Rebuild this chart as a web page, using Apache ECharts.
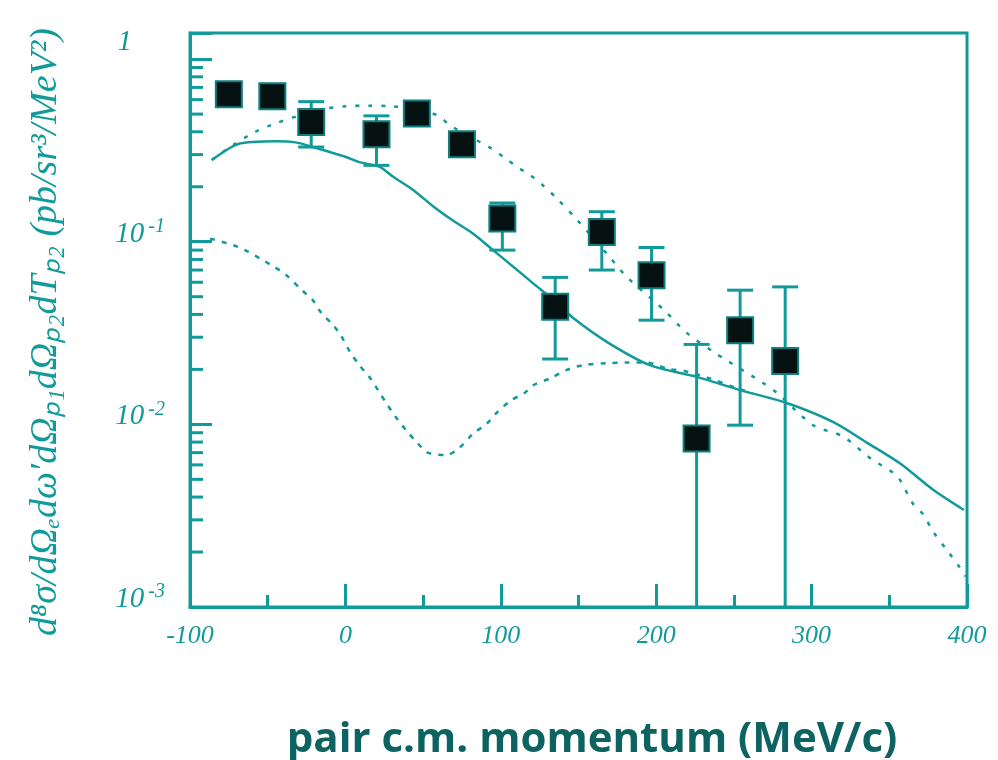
<!DOCTYPE html>
<html><head><meta charset="utf-8">
<script src="https://cdn.jsdelivr.net/npm/echarts@6/dist/echarts.min.js"></script>
<style>html,body{margin:0;padding:0;background:#fff}#c{width:998px;height:760px}</style>
</head><body><div id="c"></div>
<script>
// ---- data ----
const ptX = [-75, -47, -22, 20, 46, 75, 101, 135, 165, 197, 226, 254, 283];
const ptY = [0.643, 0.627, 0.453, 0.388, 0.503, 0.342, 0.134, 0.0441, 0.113, 0.0656, 0.00837, 0.0328, 0.0222];
const errHi = [null, null, 0.585, 0.489, null, null, 0.163, 0.0638, 0.146, 0.093, 0.0274, 0.0543, 0.0566];
const errLo = [null, null, 0.330, 0.262, null, null, 0.090, 0.0228, 0.070, 0.0372, 0.0008, 0.0099, 0.0008];

const solidX = [-86, -75, -68, -60, -45, -32, -21, -10, 0, 9, 22, 31, 44, 57, 69, 82, 95, 108, 121, 134, 147, 170, 196, 226, 254, 284, 314, 336, 357, 378, 398];
const solidY = [0.28, 0.324, 0.345, 0.352, 0.355, 0.35, 0.33, 0.31, 0.292, 0.273, 0.257, 0.226, 0.191, 0.155, 0.131, 0.111, 0.090, 0.073, 0.059, 0.048, 0.038, 0.0277, 0.0211, 0.0182, 0.0154, 0.0131, 0.0103, 0.0079, 0.0061, 0.0044, 0.0034];

const upX = [-86, -72, -58, -48, -30, -12, 0, 15, 30, 45, 59, 68, 94, 103, 112, 119, 127, 136, 149, 170, 181, 205, 220, 237, 245, 269, 278, 301, 320, 338, 355, 365, 372, 378, 388, 395, 399];
const upY = [0.28, 0.34, 0.40, 0.435, 0.49, 0.537, 0.552, 0.556, 0.552, 0.53, 0.493, 0.43, 0.324, 0.286, 0.252, 0.232, 0.204, 0.173, 0.132, 0.0826, 0.0643, 0.0423, 0.0315, 0.0249, 0.0225, 0.0168, 0.0148, 0.0099, 0.0086, 0.0065, 0.0052, 0.0037, 0.0032, 0.0026, 0.0020, 0.00166, 0.00147];

const lowX = [-87, -72, -63, -55, -46, -38, -28, -21, -16, -8, -3, 3, 9, 16, 21, 27, 33, 39, 47, 53, 65, 73, 82, 91, 97, 107, 115, 121, 132, 142, 153, 168, 181, 194, 207, 220, 235, 250, 262];
const lowY = [0.104, 0.0957, 0.0886, 0.081, 0.073, 0.0656, 0.0543, 0.0479, 0.0413, 0.035, 0.0308, 0.0249, 0.0211, 0.0179, 0.0154, 0.0128, 0.0108, 0.0093, 0.0078, 0.0070, 0.0068, 0.0074, 0.00885, 0.0101, 0.0115, 0.0136, 0.0148, 0.0164, 0.0179, 0.0198, 0.0211, 0.0216, 0.0218, 0.0218, 0.0202, 0.0194, 0.0178, 0.0160, 0.0148];

const yMinor = [0.002, 0.003, 0.004, 0.005, 0.006, 0.007, 0.008, 0.009,
                0.02, 0.03, 0.04, 0.05, 0.06, 0.07, 0.08, 0.09,
                0.2, 0.3, 0.4, 0.5, 0.6, 0.7, 0.8, 0.9];

const xTitle = 'pair c.m. momentum (MeV/c)';
const yTitle = 'd⁸σ/dΩₑdω′dΩₚ₁dΩₚ₂dTₚ₂ (pb/sr³/MeV²)';

// ---- styling ----
const TEAL = '#119a9a';
const SERIF = 'Liberation Serif';
const zip = (a, b) => a.map((v, i) => [v, b[i]]);

const errData = [];
ptX.forEach((x, i) => { if (errHi[i] != null) errData.push([x, errLo[i], errHi[i]]); });

const chart = echarts.init(document.getElementById('c'), null, { renderer: 'canvas' });
chart.setOption({
  animation: false,
  backgroundColor: '#fff',
  grid: { left: 190, right: 31, top: 33, bottom: 153, containLabel: false, outerBoundsMode: 'none',
    show: true, borderColor: TEAL, borderWidth: 3, backgroundColor: 'transparent' },
  xAxis: {
    type: 'value', min: -100, max: 400, interval: 100,
    axisLine: { show: true, onZero: false, lineStyle: { color: TEAL, width: 3 } },
    axisTick: { show: true, inside: true, length: 23, lineStyle: { color: TEAL, width: 3 } },
    minorTick: { show: true, splitNumber: 2, length: 12, lineStyle: { color: TEAL, width: 3 } },
    splitLine: { show: false },
    axisLabel: { margin: 16, color: TEAL, fontFamily: SERIF, fontStyle: 'italic', fontSize: 26,
      showMinLabel: true, showMaxLabel: true },
    name: xTitle, nameLocation: 'middle', nameGap: 112,
    nameTextStyle: { fontFamily: 'Open Sans', fontWeight: 'bold', fontSize: 42, color: '#0d6262', padding: [0, 0, 0, 27] }
  },
  yAxis: {
    type: 'log', logBase: 10, min: 0.001, max: 1.39,
    axisLine: { show: true, onZero: false, lineStyle: { color: TEAL, width: 3 } },
    axisTick: { show: true, inside: true, length: 22, lineStyle: { color: TEAL, width: 3 } },
    splitLine: { show: false },
    axisLabel: {
      margin: 25, padding: [0, 0, 18, 0],
      formatter: v => {
        const l = Math.log10(v), e = Math.round(l);
        if (Math.abs(l - e) > 1e-6) return '';
        return e === 0 ? '{one|1}' : '{b|10}{s|' + e + '}';
      },
      rich: {
        b: { fontFamily: SERIF, fontStyle: 'italic', fontSize: 29, color: TEAL, lineHeight: 32, verticalAlign: 'bottom' },
        s: { fontFamily: SERIF, fontStyle: 'italic', fontSize: 20, color: TEAL, lineHeight: 18, verticalAlign: 'top', padding: [0, 0, 0, 4] },
        one: { fontFamily: SERIF, fontStyle: 'italic', fontSize: 29, color: TEAL, padding: [0, 33, 16, 0] }
      }
    },
    name: yTitle, nameLocation: 'middle', nameRotate: 90, nameGap: 125,
    nameTextStyle: { fontFamily: SERIF, fontStyle: 'italic', fontSize: 38, color: TEAL, padding: [0, 24, 0, 0] }
  },
  series: [
    { type: 'custom', silent: true, z: 3, data: yMinor.map(v => [-100, v]),
      renderItem: (params, api) => {
        const p = api.coord([api.value(0), api.value(1)]);
        return { type: 'line', shape: { x1: p[0], y1: p[1], x2: p[0] + 13, y2: p[1] },
          style: { stroke: TEAL, lineWidth: 3 } };
      } },
    { type: 'line', data: zip(solidX, solidY), smooth: 0.3, showSymbol: false, symbol: 'none',
      lineStyle: { color: TEAL, width: 2.5 }, z: 4 },
    { type: 'line', data: zip(upX, upY), smooth: 0.3, showSymbol: false, symbol: 'none',
      lineStyle: { color: TEAL, width: 2.5, type: [4, 9] }, z: 4 },
    { type: 'line', data: zip(lowX, lowY), smooth: 0.3, showSymbol: false, symbol: 'none',
      lineStyle: { color: TEAL, width: 2.5, type: [5, 7] }, z: 4 },
    { type: 'custom', clip: true, z: 5, data: errData,
      renderItem: (params, api) => {
        const x = api.value(0);
        const lo = api.coord([x, api.value(1)]);
        const hi = api.coord([x, api.value(2)]);
        const hw = 13;
        return { type: 'group', children: [
          { type: 'line', shape: { x1: lo[0], y1: lo[1], x2: hi[0], y2: hi[1] }, style: { stroke: TEAL, lineWidth: 3 } },
          { type: 'line', shape: { x1: hi[0] - hw, y1: hi[1], x2: hi[0] + hw, y2: hi[1] }, style: { stroke: TEAL, lineWidth: 3 } },
          { type: 'line', shape: { x1: lo[0] - hw, y1: lo[1], x2: lo[0] + hw, y2: lo[1] }, style: { stroke: TEAL, lineWidth: 3 } }
        ] };
      } },
    { type: 'scatter', data: zip(ptX, ptY), symbol: 'rect', symbolSize: 26, z: 6,
      itemStyle: { color: '#061212', borderColor: '#0e7f7f', borderWidth: 2, opacity: 1 } }
  ]
});
</script></body></html>
